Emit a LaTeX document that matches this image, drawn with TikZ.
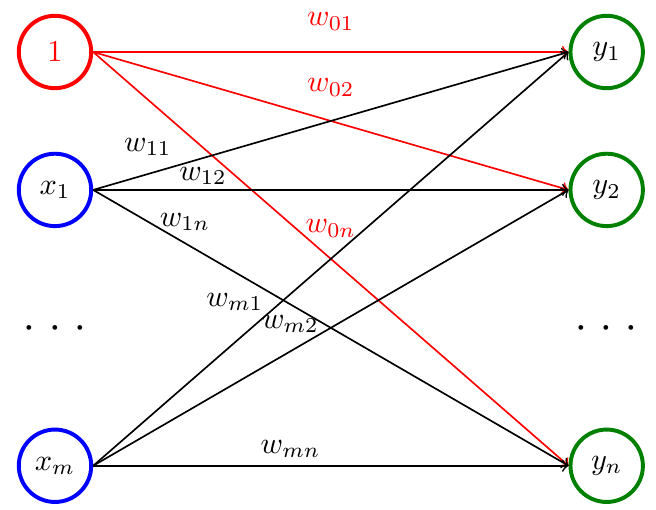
\documentclass[tikz,border=0pt]{standalone}
\usepackage{amsmath}
\begin{document}
\begin{tikzpicture}[
    neuron/.style={circle, line width=1.3pt, minimum size=0.84cm, inner sep=0pt},
    edge/.style={->, line width=0.55pt}
]
    \useasboundingbox (-0.638,0.603) rectangle (6.972,-5.302);

    % Input layer
    \node[neuron, draw=red, text=red] (one) at (0,0) {$1$};
    \node[neuron, draw=blue] (x1) at (0,-1.6) {$x_1$};
    \node (ldots) at (0,-3.2) {$\boldsymbol{{\cdot}\mkern8mu{\cdot}\mkern8mu{\cdot}}$};
    \node[neuron, draw=blue] (xm) at (0,-4.8) {$x_m$};

    % Output layer
    \node[neuron, draw=green!50!black] (y1) at (6.4,0) {$y_1$};
    \node[neuron, draw=green!50!black] (y2) at (6.4,-1.6) {$y_2$};
    \node (rdots) at (6.4,-3.2) {$\boldsymbol{{\cdot}\mkern8mu{\cdot}\mkern8mu{\cdot}}$};
    \node[neuron, draw=green!50!black] (yn) at (6.4,-4.8) {$y_n$};

    % Bias weights
    \draw[edge, red] (one.east) -- node[pos=0.5, yshift=10pt] {$w_{01}$} (y1.west);
    \draw[edge, red] (one.east) -- node[pos=0.5, yshift=11pt] {$w_{02}$} (y2.west);
    \draw[edge, red] (one.east) -- node[pos=0.5, yshift=10pt] {$w_{0n}$} (yn.west);

    % Weights from x_1
    \draw[edge] (x1.east) -- node[pos=0.115, yshift=9pt] {$w_{11}$} (y1.west);
    \draw[edge] (x1.east) -- node[pos=0.231, yshift=4.6pt] {$w_{12}$} (y2.west);
    \draw[edge] (x1.east) -- node[pos=0.193, yshift=7pt] {$w_{1n}$} (yn.west);

    % Weights from x_m
    \draw[edge] (xm.east) -- node[pos=0.298, yshift=13.3pt] {$w_{m1}$} (y1.west);
    \draw[edge] (xm.east) -- node[pos=0.415, yshift=9pt] {$w_{m2}$} (y2.west);
    \draw[edge] (xm.east) -- node[pos=0.415, yshift=5.6pt] {$w_{mn}$} (yn.west);
\end{tikzpicture}
\end{document}
